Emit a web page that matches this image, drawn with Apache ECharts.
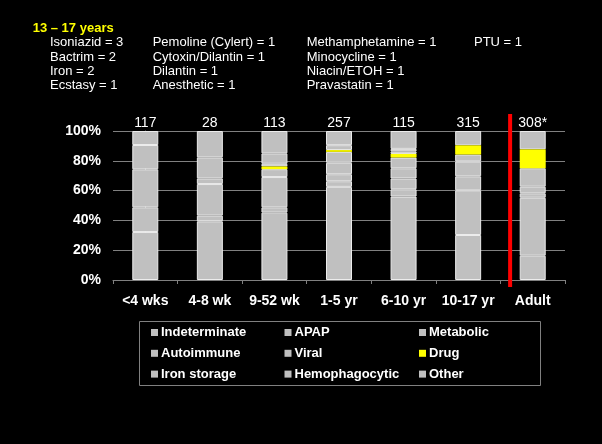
<!DOCTYPE html>
<html>
<head>
<meta charset="utf-8">
<script src="https://cdn.jsdelivr.net/npm/echarts@6/dist/echarts.min.js"></script>
<style>
html,body{margin:0;padding:0;background:#000;}
#chart{width:602px;height:444px;}
</style>
</head>
<body>
<div id="chart"></div>
<script>
// ---- data (percent of each age group) ----
var categories = ['<4 wks', '4-8 wk', '9-52 wk', '1-5 yr', '6-10 yr', '10-17 yr', 'Adult'];
var totals = ['117', '28', '113', '257', '115', '315', '308*'];
var indeterminate  = [32.2, 39.4, 45.2, 62.5, 56.0, 30.2, 16.3];
var apap           = [null, null, 3.6, 3.8, 4.9, 30.0, 38.9];
var metabolic      = [16.6, 3.8, 20.3, 4.7, 7.2, 9.4, 3.0];
var autoimmune     = [null, null, null, 7.7, 6.9, 10.0, 4.4];
var viral          = [25.5, 21.2, 5.3, 7.3, 7.2, 4.6, 12.4];
var drug           = [null, null, 1.8, 1.2, 2.4, 6.2, 12.7];
var ironStorage    = [16.3, 3.8, 1.8, null, 1.7, null, null];
var hemophagocytic = [null, 14.1, 7.0, 3.3, 1.7, null, null];
var other          = [9.4, 17.7, 15.0, 9.5, 12.0, 9.6, 12.3];
var yTicks = [0, 20, 40, 60, 80, 100];
var separatorAt = 5.65; // position on category scale between '10-17 yr' and 'Adult'

var headerTitle = '13 \u2013 17 years';
var headerCols = [
  ['Isoniazid = 3', 'Bactrim = 2', 'Iron = 2', 'Ecstasy = 1'],
  ['Pemoline (Cylert) = 1', 'Cytoxin/Dilantin = 1', 'Dilantin = 1', 'Anesthetic = 1'],
  ['Methamphetamine = 1', 'Minocycline = 1', 'Niacin/ETOH = 1', 'Pravastatin = 1'],
  ['PTU = 1']
];

// ---- layout / style ----
var FONT = "'Liberation Sans', Arial, sans-serif";
var GRAY = '#c0c0c0';
var YELLOW = '#ffff00';
var EDGE = '#ececec';
var AXIS = '#808080';

var seriesDefs = [
  ['Indeterminate', indeterminate, GRAY],
  ['APAP', apap, GRAY],
  ['Metabolic', metabolic, GRAY],
  ['Autoimmune', autoimmune, GRAY],
  ['Viral', viral, GRAY],
  ['Drug', drug, YELLOW],
  ['Iron storage', ironStorage, GRAY],
  ['Hemophagocytic', hemophagocytic, GRAY],
  ['Other', other, GRAY]
];

var series = seriesDefs.map(function (d, i) {
  var isDrug = d[0] === 'Drug';
  var s = {
    name: d[0], type: 'bar', stack: 'total', data: d[1], barWidth: 26,
    z: isDrug ? 3 : 2,
    itemStyle: { color: d[2], borderColor: EDGE, borderWidth: isDrug ? 0 : 1 },
    emphasis: { disabled: true }
  };
  if (i === seriesDefs.length - 1) {
    s.label = {
      show: true, position: 'top', distance: 1, color: '#fff',
      fontFamily: FONT, fontSize: 14,
      formatter: function (p) { return totals[p.dataIndex]; }
    };
  }
  return s;
});

series.push({
  name: 'separator', type: 'line', xAxisIndex: 1, yAxisIndex: 0,
  data: [[separatorAt, -4.7], [separatorAt, 111.4]],
  clip: false, symbol: 'none', silent: true,
  lineStyle: { color: '#ff0000', width: 4 }, z: 10
});

var graphics = [];
var colX = [50, 152.7, 306.7, 474];
var rowY = [42.3, 57.2, 71.3, 85.7];
graphics.push({
  type: 'text', x: 32.7, y: 28,
  style: { text: headerTitle, fill: YELLOW, font: 'bold 13px ' + FONT, verticalAlign: 'middle' }
});
headerCols.forEach(function (col, c) {
  col.forEach(function (t, r) {
    graphics.push({
      type: 'text', x: colX[c], y: rowY[r],
      style: { text: t, fill: '#fff', font: '13px ' + FONT, verticalAlign: 'middle' }
    });
  });
});
graphics.push({
  type: 'rect', shape: { x: 139.5, y: 321.5, width: 401, height: 64 },
  style: { fill: null, stroke: AXIS, lineWidth: 1 }
});

function legendCol(names, left) {
  return {
    data: names.map(function (n) { return { name: n, icon: 'rect' }; }),
    orient: 'vertical', left: left, top: 325.5, padding: 0,
    itemWidth: 7, itemHeight: 7, itemGap: 6.8,
    selectedMode: false,
    itemStyle: { borderWidth: 0 },
    textStyle: { color: '#fff', fontFamily: FONT, fontWeight: 'bold', fontSize: 13, lineHeight: 14, padding: [0, 0, 0, -2] }
  };
}

var chart = echarts.init(document.getElementById('chart'), null, { renderer: 'canvas' });
chart.setOption({
  backgroundColor: '#000',
  animation: false,
  grid: { left: 113, right: 37, top: 131, bottom: 164, containLabel: false },
  legend: [
    legendCol(['Indeterminate', 'Autoimmune', 'Iron storage'], 151),
    legendCol(['APAP', 'Viral', 'Hemophagocytic'], 284.5),
    legendCol(['Metabolic', 'Drug', 'Other'], 419)
  ],
  xAxis: [{
    type: 'category', data: categories,
    axisLine: { lineStyle: { color: AXIS, width: 1 } },
    axisTick: { show: true, length: 4, lineStyle: { color: AXIS } },
    axisLabel: { color: '#fff', fontFamily: FONT, fontWeight: 'bold', fontSize: 14, margin: 14, interval: 0 },
    splitLine: { show: false }
  }, {
    type: 'value', min: -0.5, max: 6.5, show: false
  }],
  yAxis: {
    type: 'value', min: yTicks[0], max: yTicks[yTicks.length - 1], interval: 20,
    axisLine: { show: true, lineStyle: { color: AXIS, width: 1 } },
    axisTick: { show: true, length: 3, lineStyle: { color: AXIS } },
    axisLabel: { color: '#fff', fontFamily: FONT, fontWeight: 'bold', fontSize: 14, margin: 12, formatter: '{value}%' },
    splitLine: { show: true, lineStyle: { color: AXIS, width: 1 } }
  },
  graphic: graphics,
  series: series
});
</script>
</body>
</html>
